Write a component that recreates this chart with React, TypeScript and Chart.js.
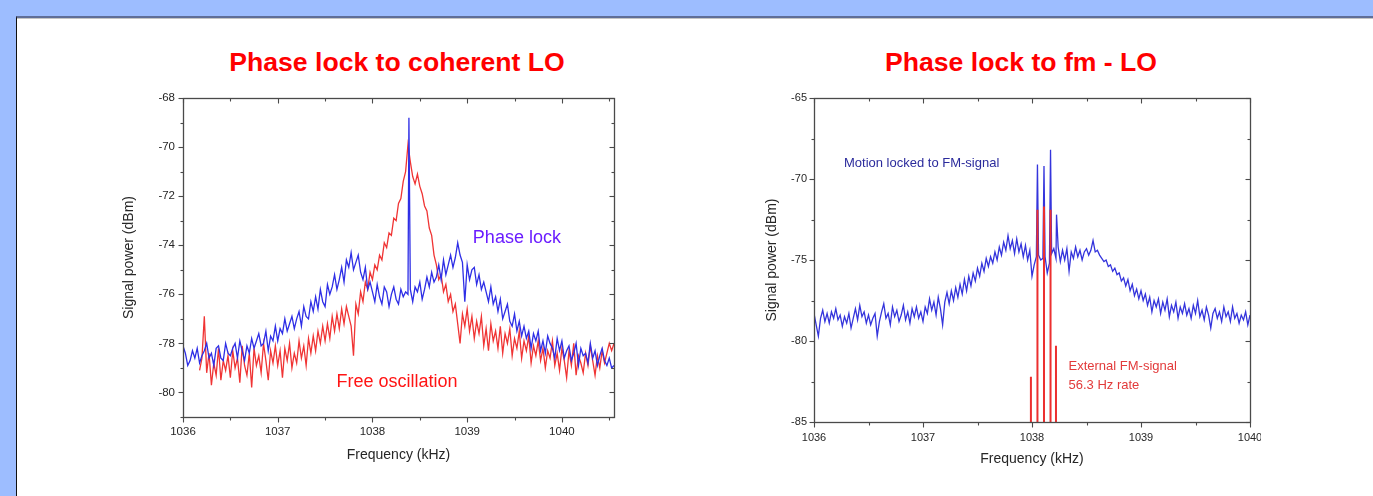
import { useEffect, useRef } from 'react';
import { Chart, registerables } from 'chart.js';

Chart.register(...registerables);

const FONT = "'Liberation Sans', Arial, Helvetica, sans-serif";
Chart.defaults.font.family = FONT;

// ---------- Left chart: Phase lock to coherent LO ----------
const L_FREQ_START = 1036.0;
const L_FREQ_STEP = 0.025;
const L_PHASE_LOCK = [
  -78.1, -78.4, -78.9, -78.7, -78.3, -78.6, -78.2, -78.8, -78.5, -78.3,
  -78.0, -78.6, -78.4, -78.9, -78.2, -78.1, -78.6, -78.7, -78.0, -78.4,
  -78.5, -78.2, -78.0, -78.6, -77.9, -78.3, -78.7, -78.1, -78.4, -77.8,
  -78.2, -77.9, -77.6, -78.1, -78.0, -77.5, -78.3, -77.7, -77.9, -77.3,
  -77.9, -77.4, -77.6, -77.0, -77.5, -77.2, -76.9, -77.4, -77.0, -76.7,
  -77.3, -76.5, -76.9, -77.0, -76.3, -76.7, -76.1, -76.6, -75.8, -76.3,
  -76.5, -75.6, -76.0, -75.7, -75.2, -75.8, -75.4, -74.9, -75.5, -74.6,
  -74.9, -74.3, -75.0, -74.7, -74.4, -75.1, -75.4, -74.9, -75.8, -75.5,
  -75.9, -76.3, -75.6, -76.1, -76.4, -75.7, -75.9, -76.5, -76.0, -75.7,
  -76.2, -76.4, -75.8, -76.1, -75.9, -76.0, -75.8, -76.3, -75.7, -75.9,
  -75.5, -76.2, -75.8, -75.3, -75.7, -75.1, -75.5, -75.3, -74.8, -75.4,
  -74.6, -75.2, -74.8, -74.4, -74.9, -74.5, -73.9, -74.4, -74.7, -76.3,
  -74.8, -75.4, -75.0, -74.9, -75.6, -75.2, -75.8, -75.5, -75.9, -76.3,
  -75.7, -76.4, -76.1, -76.7, -76.2, -77.0, -76.7, -76.4, -77.1, -77.3,
  -76.8, -77.5, -77.1, -77.7, -77.3, -77.8, -77.5, -78.2, -77.6, -77.9,
  -77.5, -78.3, -77.9, -78.4, -77.7, -78.0, -78.2, -78.6, -77.8, -78.3,
  -77.9, -78.6, -78.3, -78.1, -78.7, -78.4, -78.0, -78.9, -78.2, -78.5,
  -78.4, -78.8, -78.0, -78.6, -78.3, -78.9, -78.5, -78.2, -78.7, -78.9,
  -78.6, -79.0, -78.9,
];
const L_LOCK_SPIKE_FREQ = [1038.385];
const L_LOCK_SPIKE_VAL = [-68.8];

const L_FREE_START = 1036.175;
const L_FREE_OSC = [
  -79.1, -78.6, -76.9,
  -79.2, -78.4, -79.7, -78.8, -79.3, -78.2, -79.5, -78.7, -79.1, -78.5,
  -79.4, -78.3, -79.0, -78.6, -79.6, -78.1, -78.9, -79.3, -78.4, -79.8,
  -78.2, -78.9, -78.5, -79.2, -78.0, -78.7, -79.5, -78.3, -78.8, -78.1,
  -78.9, -78.3, -79.4, -78.2, -78.7, -78.0, -79.0, -78.4, -78.8, -77.9,
  -78.6, -78.1, -78.9, -77.8, -78.4, -77.7, -78.3, -77.5, -78.0, -77.3,
  -77.9, -77.2, -77.8, -76.9, -77.5, -76.8, -77.4, -76.6, -77.2, -76.5,
  -76.9, -77.3, -78.5, -76.4, -76.8, -75.9, -76.3, -75.5, -75.8, -75.1,
  -75.4, -74.8, -75.0, -74.4, -74.6, -73.9, -74.1, -73.5, -73.6, -72.9,
  -73.0, -72.3, -72.1, -71.4, -71.0, -69.9, -70.6, -71.2, -71.5, -71.1,
  -71.6, -71.9, -72.4, -72.6, -73.3, -73.6, -74.4, -74.8, -75.4, -75.2,
  -75.9, -75.6, -76.3, -76.0, -76.7, -76.4, -77.2, -78.0, -76.8, -77.3,
  -76.6, -77.5, -76.9, -77.8, -77.1, -77.6, -76.9, -78.1, -77.4, -78.3,
  -77.2, -77.9, -77.5, -78.2, -77.3, -78.4, -77.6, -78.0, -77.4, -78.5,
  -77.8, -78.2, -77.5, -78.6, -77.9, -78.3, -77.7, -78.8, -78.1, -78.5,
  -77.9, -78.7, -78.2, -79.0, -78.3, -78.6, -77.9, -78.9, -78.4, -79.1,
  -78.2, -78.7, -79.4, -78.3, -78.9, -78.0, -79.3, -78.5, -78.8, -79.2,
  -78.4, -78.9, -78.1, -78.7, -79.3, -78.5, -79.0, -78.3, -78.8, -78.4,
  -78.0, -78.3, -78.0,
];

const L_X_TICKS = [1036, 1037, 1038, 1039, 1040];
const L_X_MINOR = [1036.5, 1037.5, 1038.5, 1039.5, 1040.5];
const L_Y_TICKS = [-80, -78, -76, -74, -72, -70, -68];
const L_Y_MINOR = [-81, -79, -77, -75, -73, -71, -69];

const L_NOTES = [
  { text: 'Phase lock', x: 1039.06, y: -73.71, color: '#6a1cff', size: 18 },
  { text: 'Free oscillation', x: 1037.62, y: -79.59, color: '#ff1414', size: 18 },
];

// ---------- Right chart: Phase lock to fm - LO ----------
const R_FREQ_START = 1036.0;
const R_FREQ_STEP = 0.02;
const R_MOTION = [
  -78.3, -79.0, -79.7, -78.6, -78.1, -78.8, -78.3, -78.9, -78.2, -78.6,
  -78.0, -78.7, -78.4, -79.1, -78.5, -78.9, -78.3, -79.2, -78.6, -78.0,
  -78.7, -77.8, -78.5, -78.2, -78.9, -78.4, -79.0, -78.6, -78.3, -79.7,
  -78.8, -78.2, -77.7, -78.6, -78.3, -79.0, -77.9, -78.5, -78.1, -78.8,
  -78.4, -77.8, -78.7, -78.2, -78.9, -78.0, -78.5, -77.9, -78.6, -78.2,
  -78.8, -77.9, -78.3, -77.4, -78.1, -77.6, -78.4, -77.3, -78.0, -79.0,
  -77.6, -77.0, -77.7, -76.9, -77.5, -76.7, -77.3, -76.5, -77.1, -76.2,
  -76.9, -76.0, -76.6, -75.8, -76.3, -75.5, -76.0, -75.2, -75.7, -74.9,
  -75.4, -74.8, -75.2, -74.5, -75.0, -74.2, -74.7, -73.9, -74.4, -73.5,
  -74.3, -73.8, -74.6, -73.7, -74.5, -74.0, -74.8, -74.1, -75.0, -74.4,
  -76.0, -75.3, -74.8, -74.7, -75.0, -74.9, -74.8, -75.8, -75.2, -74.6,
  -74.3, -74.9, -74.2, -75.1, -74.4, -75.0, -74.3, -75.7, -74.5, -74.9,
  -74.2, -74.8, -74.4, -75.0, -74.5, -74.3, -74.7, -74.4, -73.8, -74.5,
  -74.4, -74.7, -74.9, -75.1, -75.0, -75.4, -75.3, -75.7, -75.5, -75.9,
  -75.8, -76.3, -76.1, -76.6, -76.2, -76.9, -76.5, -77.2, -76.8, -77.4,
  -76.9, -77.5, -77.1, -77.8, -77.3, -78.2, -77.5, -77.9, -77.4, -78.3,
  -77.6, -78.1, -77.4, -78.5, -77.8, -78.2, -77.6, -78.6, -77.9, -78.3,
  -77.7, -78.4, -78.0, -78.6, -77.8, -78.3, -77.5, -78.5, -78.1, -78.7,
  -77.9, -78.4, -79.2, -78.3, -78.0, -78.6, -78.2, -78.8, -77.9, -78.5,
  -78.2, -78.8, -77.9, -78.6, -78.3, -78.9, -78.4, -78.7, -78.2, -79.0,
  -78.4,
];
const R_MOTION_SPIKE_FREQ = [1038.05, 1038.11, 1038.17, 1038.225];
const R_MOTION_SPIKE_VAL = [-69.1, -69.2, -68.2, -72.2];

const R_FM_FREQ = [1037.99, 1038.05, 1038.11, 1038.17, 1038.22];
const R_FM_TOP = [-82.2, -71.9, -71.7, -71.9, -80.3];
const R_FM_BASE = -86;

const R_X_TICKS = [1036, 1037, 1038, 1039, 1040];
const R_X_MINOR = [1036.5, 1037.5, 1038.5, 1039.5];
const R_Y_TICKS = [-85, -80, -75, -70, -65];
const R_Y_MINOR = [-82.5, -77.5, -72.5, -67.5];

const R_NOTES = [
  { text: 'Motion locked to FM-signal', x: 1036.275, y: -69.03, color: '#2b2b9c', size: 13 },
  { text: 'External FM-signal', x: 1038.335, y: -81.58, color: '#e23a3a', size: 13 },
  { text: '56.3 Hz rate', x: 1038.335, y: -82.72, color: '#e23a3a', size: 13 },
];

// ---------- helpers ----------
type Pt = { x: number; y: number | null };

function gridPoints(start: number, step: number, values: number[]): Pt[] {
  return values.map((v, i) => ({ x: +(start + i * step).toFixed(4), y: v }));
}
function withSpikes(points: Pt[], freqs: number[], vals: number[]): Pt[] {
  return [...points, ...freqs.map((f, i) => ({ x: f, y: vals[i] }))].sort((a, b) => a.x - b.x);
}
function fmLines(freqs: number[], tops: number[], base: number): Pt[] {
  const out: Pt[] = [];
  freqs.forEach((f, i) => {
    out.push({ x: f, y: base }, { x: f, y: tops[i] }, { x: f + 0.0005, y: null });
  });
  return out;
}

const framePlugin = {
  id: 'frame',
  afterDraw(chart: any, _args: any, opts: any) {
    const { ctx, chartArea: a, scales } = chart;
    const xs = scales.x;
    const ys = scales.y;
    const r = (v: number) => Math.round(v) + 0.5;
    ctx.save();
    ctx.strokeStyle = '#4a4a4a';
    ctx.lineWidth = 1.3;
    ctx.strokeRect(r(a.left), r(a.top), Math.round(a.right) - Math.round(a.left), Math.round(a.bottom) - Math.round(a.top));
    ctx.lineWidth = 1.1;
    const seg = (x1: number, y1: number, x2: number, y2: number) => {
      ctx.beginPath();
      ctx.moveTo(x1, y1);
      ctx.lineTo(x2, y2);
      ctx.stroke();
    };
    const doX = (vals: number[], len: number) => {
      for (const v of vals) {
        const p = r(xs.getPixelForValue(v));
        if (p < a.left - 1 || p > a.right + 1) continue;
        seg(p, r(a.bottom), p, r(a.bottom) + len);
        seg(p, r(a.top), p, r(a.top) + len);
      }
    };
    const doY = (vals: number[], len: number) => {
      for (const v of vals) {
        const p = r(ys.getPixelForValue(v));
        if (p < a.top - 1 || p > a.bottom + 1) continue;
        seg(r(a.left), p, r(a.left) - len, p);
        seg(r(a.right), p, r(a.right) - len, p);
      }
    };
    doX(opts.xMajor, 5);
    doX(opts.xMinor, 3);
    doY(opts.yMajor, 5);
    doY(opts.yMinor, 3);
    ctx.textAlign = 'left';
    ctx.textBaseline = 'middle';
    for (const n of opts.notes) {
      ctx.font = `${n.size}px ${FONT}`;
      ctx.fillStyle = n.color;
      ctx.fillText(n.text, xs.getPixelForValue(n.x), ys.getPixelForValue(n.y));
    }
    ctx.restore();
  },
};

function axisX(min: number, max: number, ticks: number[], height: number, pad: number, titlePad: number, size: number) {
  return {
    type: 'linear',
    min,
    max,
    afterBuildTicks: (s: any) => {
      s.ticks = ticks.map((v) => ({ value: v }));
    },
    afterFit: (s: any) => {
      s.height = height;
      s.paddingLeft = 0;
      s.paddingRight = 0;
    },
    grid: { display: false, drawTicks: false },
    border: { display: false },
    ticks: {
      padding: pad,
      color: '#262626',
      font: { size },
      maxRotation: 0,
      autoSkip: false,
      callback: (v: any) => String(v),
    },
    title: {
      display: true,
      text: 'Frequency (kHz)',
      color: '#262626',
      font: { size: 14 },
      padding: { top: 0, bottom: titlePad },
    },
  };
}

function axisY(min: number, max: number, ticks: number[], width: number, pad: number, titlePad: number, size: number) {
  return {
    type: 'linear',
    min,
    max,
    afterBuildTicks: (s: any) => {
      s.ticks = ticks.map((v) => ({ value: v }));
    },
    afterFit: (s: any) => {
      s.width = width;
      s.paddingTop = 0;
      s.paddingBottom = 0;
    },
    grid: { display: false, drawTicks: false },
    border: { display: false },
    ticks: {
      padding: pad,
      color: '#262626',
      font: { size },
      autoSkip: false,
      callback: (v: any) => String(v),
    },
    title: {
      display: true,
      text: 'Signal power (dBm)',
      color: '#262626',
      font: { size: 14 },
      padding: { top: titlePad, bottom: 0 },
    },
  };
}

const baseLine = { pointRadius: 0, tension: 0, fill: false, spanGaps: false };

function leftConfig(): any {
  return {
    type: 'line',
    data: {
      datasets: [
        {
          ...baseLine,
          label: 'Phase lock',
          data: withSpikes(gridPoints(L_FREQ_START, L_FREQ_STEP, L_PHASE_LOCK), L_LOCK_SPIKE_FREQ, L_LOCK_SPIKE_VAL),
          borderColor: '#2e2ee6',
          borderWidth: 1.3,
        },
        {
          ...baseLine,
          label: 'Free oscillation',
          data: gridPoints(L_FREE_START, L_FREQ_STEP, L_FREE_OSC),
          borderColor: '#f03434',
          borderWidth: 1.3,
        },
      ],
    },
    options: {
      animation: false,
      responsive: false,
      layout: { padding: { top: 13, right: 16, left: 0, bottom: 0 } },
      plugins: {
        legend: { display: false },
        tooltip: { enabled: false },
        frame: { xMajor: L_X_TICKS, xMinor: L_X_MINOR, yMajor: L_Y_TICKS, yMinor: L_Y_MINOR, notes: L_NOTES },
      },
      scales: {
        x: axisX(1036, 1040.55, L_X_TICKS, 58, 8, 11, 11.5),
        y: axisY(-81, -68, L_Y_TICKS, 73, 8, 11, 11.5),
      },
    },
    plugins: [framePlugin],
  };
}

function rightConfig(): any {
  return {
    type: 'line',
    data: {
      datasets: [
        {
          ...baseLine,
          label: 'External FM-signal',
          data: fmLines(R_FM_FREQ, R_FM_TOP, R_FM_BASE),
          borderColor: '#ec2f2f',
          borderWidth: 2,
        },
        {
          ...baseLine,
          label: 'Motion locked to FM-signal',
          data: withSpikes(gridPoints(R_FREQ_START, R_FREQ_STEP, R_MOTION), R_MOTION_SPIKE_FREQ, R_MOTION_SPIKE_VAL),
          borderColor: '#3434dc',
          borderWidth: 1.3,
        },
      ],
    },
    options: {
      animation: false,
      responsive: false,
      layout: { padding: { top: 13, right: 11, left: 0, bottom: 0 } },
      plugins: {
        legend: { display: false },
        tooltip: { enabled: false },
        frame: { xMajor: R_X_TICKS, xMinor: R_X_MINOR, yMajor: R_Y_TICKS, yMinor: R_Y_MINOR, notes: R_NOTES },
      },
      scales: {
        x: axisX(1036, 1040, R_X_TICKS, 53, 9, 7, 11),
        y: axisY(-85, -65, R_Y_TICKS, 64, 7, 14, 11),
      },
    },
    plugins: [framePlugin],
  };
}

function ChartBox({ left, top, width, height, make }: { left: number; top: number; width: number; height: number; make: () => any }) {
  const ref = useRef<HTMLCanvasElement | null>(null);
  useEffect(() => {
    if (!ref.current) return;
    const chart = new Chart(ref.current, make());
    return () => chart.destroy();
  }, [make]);
  return (
    <div style={{ position: 'absolute', left, top, width, height, overflow: 'hidden' }}>
      <canvas ref={ref} width={width} height={height} style={{ display: 'block', width, height }} />
    </div>
  );
}

const titleStyle: any = {
  position: 'absolute',
  width: 460,
  textAlign: 'center',
  top: 47,
  height: 30,
  lineHeight: '30px',
  fontFamily: FONT,
  fontWeight: 'bold',
  fontSize: 26.6,
  color: '#ff0000',
  whiteSpace: 'nowrap',
};

export default function App() {
  return (
    <div style={{ position: 'fixed', left: 0, top: 0, width: 1373, height: 496, background: '#9dbdff', overflow: 'hidden' }}>
      <div
        style={{
          position: 'absolute',
          left: 16,
          top: 16,
          width: 1373 - 16,
          height: 496 - 16,
          background: '#ffffff',
          borderTop: '2px solid #5f6e98',
          borderLeft: '1px solid #111',
          boxSizing: 'border-box',
        }}
      >
        <div style={{ position: 'absolute', left: 0, top: 0, right: 0, height: 1, background: '#c4c4c4' }} />
      </div>
      <div style={{ ...titleStyle, left: 397 - 230 }}>Phase lock to coherent LO</div>
      <div style={{ ...titleStyle, left: 1021 - 230 }}>Phase lock to fm - LO</div>
      <ChartBox left={110} top={85} width={520} height={390} make={leftConfig} />
      <ChartBox left={750} top={85} width={511} height={390} make={rightConfig} />
    </div>
  );
}
